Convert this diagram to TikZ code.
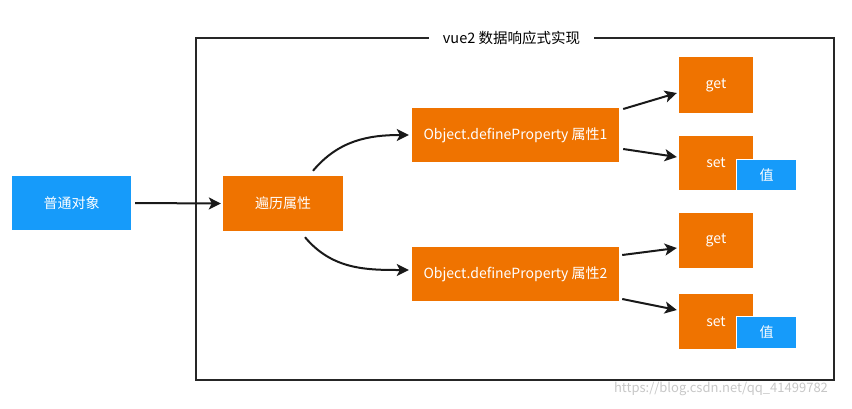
\documentclass[tikz,border=0pt]{standalone}
\usepackage{fontspec}
\setmainfont{Noto Sans CJK SC}
\usetikzlibrary{arrows.meta}
\definecolor{vorange}{HTML}{EF7300}
\definecolor{vblue}{HTML}{169BFA}
\tikzset{
  box/.style={fill=vorange, text=white, font=\fontsize{14}{16}\selectfont, inner sep=0pt, anchor=center},
  bluebox/.style={fill=vblue, text=white, font=\fontsize{14}{16}\selectfont, inner sep=0pt, anchor=center},
  conn/.style={line width=2pt, black!90, -{Stealth[length=12pt,width=12pt,inset=3pt]}},
}
\begin{document}
\begin{tikzpicture}[x=1pt,y=-1pt]
\useasboundingbox (0,0) rectangle (852,408);
% frame
\draw[line width=1.8pt, black!85] (196,38) rectangle (834,380);
\node[fill=white, inner xsep=14pt, inner ysep=2pt, font=\fontsize{14.5}{16}\selectfont] (title) at (511.5,38) {vue2 数据响应式实现};
% nodes
\node[bluebox, minimum width=119pt, minimum height=54pt] (obj) at (71.5,203) {普通对象};
\node[box, minimum width=120pt, minimum height=55pt] (trav) at (283,203.5) {遍历属性};
\node[box, minimum width=207pt, minimum height=54pt] (p1) at (515.5,135) {Object.defineProperty 属性1};
\node[box, minimum width=207pt, minimum height=54pt] (p2) at (515.5,274) {Object.defineProperty 属性2};
\node[box, minimum width=74pt, minimum height=56pt] (g1) at (716,85) {get};
\node[box, minimum width=74pt, minimum height=54pt] (s1) at (716,163) {set};
\node[box, minimum width=74pt, minimum height=55pt] (g2) at (716,240.5) {get};
\node[box, minimum width=74pt, minimum height=55pt] (s2) at (716,321.5) {set};
\node[bluebox, draw=white, line width=1pt, minimum width=60pt, minimum height=31pt] (v1) at (766.5,175) {值};
\node[bluebox, draw=white, line width=1pt, minimum width=60pt, minimum height=32pt] (v2) at (766.5,332.5) {值};
% connectors
\draw[conn] ([xshift=4pt]obj.east) -- ([xshift=-2pt]trav.west);
\draw[conn] ([xshift=30pt,yshift=5pt]trav.north) to[out=50,in=180] ([xshift=-3pt]p1.west);
\draw[conn] ([xshift=22pt,yshift=-6pt]trav.south) to[out=-50,in=180] ([xshift=-3pt,yshift=4pt]p2.west);
\draw[conn] ([xshift=4pt,yshift=26pt]p1.east) -- ([xshift=-2pt,yshift=-8pt]g1.west);
\draw[conn] ([xshift=4pt,yshift=-14pt]p1.east) -- ([xshift=-2pt,yshift=6pt]s1.west);
\draw[conn] ([xshift=3pt,yshift=19pt]p2.east) -- ([xshift=-2pt,yshift=-7.5pt]g2.west);
\draw[conn] ([xshift=3pt,yshift=-25pt]p2.east) -- ([xshift=-2pt,yshift=11.5pt]s2.west);
% watermark
\node[text=black!22, font=\fontsize{13}{15}\selectfont, inner sep=0pt] (wm) at (721,389) {https://blog.csdn.net/qq\_41499782};
\end{tikzpicture}
\end{document}
